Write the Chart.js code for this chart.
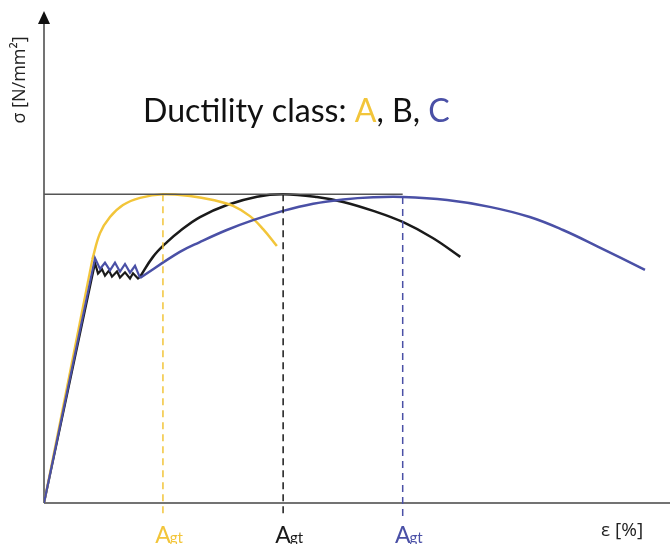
<!DOCTYPE html>
<html>
<head>
<meta charset="utf-8">
<script src="https://cdn.jsdelivr.net/npm/chart.js@4.4.1/dist/chart.umd.min.js"></script>
<style>
  html, body { margin: 0; padding: 0; background: #fff; }
</style>
</head>
<body>
<canvas id="chart" width="670" height="544"></canvas>
<script>
// Ductility classes and their colours
const classes = ['A', 'B', 'C'];
const classColors = ['#f2c53a', '#1a1a1a', '#4a50a6'];

// Elastic part + yield plateau (straight segments), strain [%] / stress (ultimate = 100)
const yieldStrainA = [0, 7.7];
const yieldStressA = [0, 78.7];
const yieldStrainB = [0, 8.15, 8.63, 9.27, 9.74, 10.38, 10.86, 11.66, 12.14, 12.94, 13.74, 14.22, 15.02, 15.34];
const yieldStressB = [0, 77.7, 74.3, 75.7, 73.6, 75.3, 73.3, 75.0, 73.0, 74.7, 72.7, 74.4, 72.7, 73.2];
const yieldStrainC = [0, 8.15, 8.95, 9.74, 10.54, 11.34, 12.14, 12.94, 13.74, 14.54, 15.34];
const yieldStressC = [0, 79.3, 75.8, 77.8, 75.3, 77.8, 74.9, 77.4, 74.6, 76.8, 72.9];

// Hardening / necking part (smooth curves)
const strainA = [7.7, 8.95, 10.54, 12.62, 15.34, 19.0, 23.3, 27.0, 30.2, 32.9, 35.0, 37.2];
const stressA = [78.7, 87.4, 92.6, 96.5, 98.8, 100, 99.4, 98.1, 96.2, 92.9, 88.7, 83.2];
const strainB = [15.34, 17.41, 19.65, 21.73, 24.92, 29.23, 34.03, 38.2, 43.6, 47.8, 52.6, 57.3, 62.1, 66.5];
const stressB = [73.2, 79.7, 84.5, 88.1, 92.6, 96.5, 99.2, 100, 99.1, 97.5, 94.6, 91.0, 85.8, 79.7];
const strainC = [15.34, 21.7, 24.9, 29.2, 33.4, 38.2, 43.0, 47.8, 52.6, 57.3, 64.4, 71.2, 77.6, 82.9, 88.3, 96.0];
const stressC = [72.9, 81.3, 84.5, 88.4, 91.6, 94.6, 96.9, 98.3, 99.0, 99.1, 98.1, 95.9, 92.6, 88.4, 83.2, 75.5];

// Uniform elongation at maximum force (Agt) per class
const agtStrain = [19.0, 38.2, 57.3];
const agtStress = [100, 100, 99.1];
const ultimateStress = 100;
const agtLabel = 'A';
const agtSub = 'gt';

// Axis labels and title
const xAxisLabel = 'ε [%]';
const yAxisLabel = 'σ [N/mm²]';
const titleParts = ['Ductility class: ', 'A', ', B, ', 'C'];
const titleColors = ['#111', classColors[0], '#111', classColors[2]];

function zip(xs, ys) {
  return xs.map((x, i) => ({ x: x, y: ys[i] }));
}

const yieldData = [zip(yieldStrainA, yieldStressA), zip(yieldStrainB, yieldStressB), zip(yieldStrainC, yieldStressC)];
const curveData = [zip(strainA, stressA), zip(strainB, stressB), zip(strainC, stressC)];

const datasets = [];

// ultimate stress reference line
datasets.push({
  data: [{ x: 0, y: ultimateStress }, { x: agtStrain[2], y: ultimateStress }],
  borderColor: '#555',
  borderWidth: 1.5,
  tension: 0
});

// dashed Agt markers, running a bit below the x axis
classes.forEach((c, i) => {
  datasets.push({
    data: [{ x: agtStrain[i], y: agtStress[i] }, { x: agtStrain[i], y: -4.6 }],
    borderColor: classColors[i],
    borderWidth: 1.5,
    borderDash: [7, 5],
    clip: false,
    tension: 0
  });
});

// curves, drawn C, A, B so black sits on top like the picture
[2, 0, 1].forEach(i => {
  datasets.push({
    data: yieldData[i],
    borderColor: classColors[i],
    borderWidth: 2.2,
    tension: 0
  });
  datasets.push({
    data: curveData[i],
    borderColor: classColors[i],
    borderWidth: 2.5,
    tension: 0.4
  });
});

// Axes with arrow + all text
const decorPlugin = {
  id: 'decor',
  beforeDatasetsDraw(chart) {
    const ctx = chart.ctx;
    const area = chart.chartArea;
    const x0 = chart.scales.x.getPixelForValue(0);
    const y0 = chart.scales.y.getPixelForValue(0);
    ctx.save();
    ctx.strokeStyle = '#444';
    ctx.lineWidth = 1.5;
    ctx.beginPath();
    ctx.moveTo(x0, y0);
    ctx.lineTo(area.right, y0);
    ctx.stroke();
    ctx.beginPath();
    ctx.moveTo(x0, y0);
    ctx.lineTo(x0, area.top + 12);
    ctx.stroke();
    ctx.fillStyle = '#111';
    ctx.beginPath();
    ctx.moveTo(x0, area.top - 1);
    ctx.lineTo(x0 - 6, area.top + 12);
    ctx.lineTo(x0 + 6, area.top + 12);
    ctx.closePath();
    ctx.fill();
    ctx.restore();
  },
  afterDraw(chart) {
    const ctx = chart.ctx;
    const xs = chart.scales.x;
    ctx.save();

    // title, sized to the reference width
    let size = 27;
    ctx.font = size + 'px Lato';
    const w = ctx.measureText(titleParts.join('')).width;
    size = size * 307 / w;
    ctx.font = size + 'px Lato';
    ctx.textBaseline = 'alphabetic';
    let tx = 143;
    titleParts.forEach((p, i) => {
      ctx.fillStyle = titleColors[i];
      ctx.fillText(p, tx, 122);
      tx += ctx.measureText(p).width;
    });

    // Agt labels under the dashed markers
    agtStrain.forEach((s, i) => {
      const px = xs.getPixelForValue(s);
      ctx.fillStyle = classColors[i];
      ctx.font = '23px Lato';
      const aw = ctx.measureText(agtLabel).width;
      ctx.fillText(agtLabel, px - aw / 2, 543);
      ctx.font = '15px Lato';
      ctx.fillText(agtSub, px + aw / 2 - 1, 543);
    });

    // axis titles
    ctx.fillStyle = '#222';
    ctx.font = '19px "Open Sans"';
    ctx.fillText(xAxisLabel, 601, 536);
    ctx.translate(25, 80);
    ctx.rotate(-Math.PI / 2);
    ctx.textAlign = 'center';
    ctx.font = '18px "Open Sans"';
    ctx.fillText(yAxisLabel, 0, 0);
    ctx.restore();
  }
};

new Chart(document.getElementById('chart'), {
  type: 'scatter',
  data: { datasets: datasets },
  options: {
    responsive: false,
    animation: false,
    devicePixelRatio: 1,
    showLine: true,
    layout: { padding: { left: 44, right: 0, top: 12, bottom: 41 } },
    elements: { point: { radius: 0, hoverRadius: 0 } },
    plugins: { legend: { display: false }, title: { display: false }, tooltip: { enabled: false } },
    scales: {
      x: { type: 'linear', min: 0, max: 100, display: false },
      y: { type: 'linear', min: 0, max: 159, display: false }
    }
  },
  plugins: [decorPlugin]
});
</script>
</body>
</html>
